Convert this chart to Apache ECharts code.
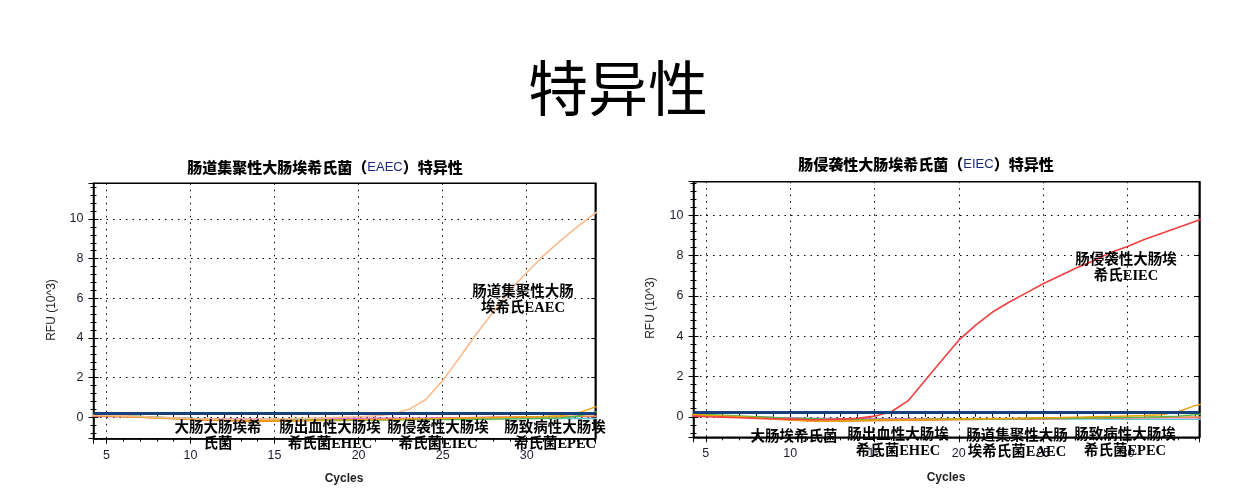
<!DOCTYPE html>
<html>
<head>
<meta charset="utf-8">
<script src="https://cdn.jsdelivr.net/npm/echarts@6/dist/echarts.min.js"></script>
<style>
html,body{margin:0;padding:0;background:#fff}
#main{width:1236px;height:492px}
</style>
</head>
<body>
<div id="main"></div>
<script>
// cycle numbers (x)
var cycles = [4,5,6,7,8,9,10,11,12,13,14,15,16,17,18,19,20,21,22,23,24,25,26,27,28,29,30,31,32,33,34,35];
var threshold = 0.2;

// left panel: EAEC specificity (RFU x10^3)
var leftEAEC   = [0.12,0.10,0.07,0.04,0.00,-0.03,-0.06,-0.08,-0.10,-0.10,-0.10,-0.08,-0.07,-0.05,-0.03,0.00,0.03,0.08,0.15,0.40,0.90,1.85,3.00,4.20,5.30,6.40,7.30,8.15,8.90,9.60,10.25,10.80];
var leftGreen  = [0.15,0.12,0.08,0.04,0.00,-0.04,-0.08,-0.10,-0.12,-0.13,-0.14,-0.15,-0.15,-0.15,-0.15,-0.15,-0.14,-0.14,-0.13,-0.13,-0.12,-0.12,-0.11,-0.10,-0.09,-0.08,-0.07,-0.05,-0.03,0.05,0.25,0.40];
var leftGold   = [0.10,0.08,0.05,0.02,-0.02,-0.06,-0.10,-0.12,-0.14,-0.15,-0.16,-0.16,-0.16,-0.15,-0.14,-0.13,-0.12,-0.11,-0.10,-0.09,-0.08,-0.06,-0.05,-0.03,-0.02,0.00,0.02,0.04,0.08,0.20,0.50,0.70];
var leftOrange = [0.08,0.06,0.03,0.00,-0.04,-0.08,-0.12,-0.15,-0.18,-0.20,-0.20,-0.20,-0.19,-0.18,-0.17,-0.16,-0.15,-0.14,-0.12,-0.10,-0.08,-0.06,-0.04,-0.02,0.00,0.01,0.02,0.03,0.04,0.05,0.06,0.07];
var leftPink   = [0.05,0.04,0.02,0.00,-0.02,-0.04,-0.06,-0.07,-0.08,-0.08,-0.08,-0.08,-0.08,-0.07,-0.07,-0.06,-0.06,-0.05,-0.05,-0.04,-0.03,-0.02,-0.02,-0.01,0.00,0.01,0.02,0.03,0.03,0.04,0.04,0.05];
var leftCyan   = [0.12,0.10,0.07,0.04,0.01,-0.02,-0.05,-0.07,-0.09,-0.10,-0.11,-0.12,-0.12,-0.12,-0.12,-0.11,-0.11,-0.10,-0.10,-0.10,-0.09,-0.09,-0.08,-0.08,-0.08,-0.07,-0.07,-0.07,-0.06,-0.06,-0.06,-0.06];

// right panel: EIEC specificity
var rightEIEC   = [0.05,0.00,-0.02,-0.05,-0.08,-0.10,-0.12,-0.14,-0.15,-0.12,-0.08,0.03,0.25,0.80,1.80,2.80,3.80,4.55,5.20,5.70,6.15,6.60,7.00,7.40,7.75,8.15,8.45,8.80,9.10,9.40,9.70,10.00];
var rightGold   = [0.12,0.08,0.04,0.00,-0.05,-0.10,-0.15,-0.20,-0.22,-0.20,-0.18,-0.16,-0.15,-0.14,-0.13,-0.12,-0.11,-0.10,-0.09,-0.08,-0.06,-0.05,-0.04,-0.02,0.00,0.02,0.04,0.06,0.10,0.25,0.55,0.75];
var rightGreen  = [0.15,0.12,0.08,0.04,0.00,-0.04,-0.07,-0.09,-0.11,-0.12,-0.13,-0.13,-0.13,-0.13,-0.12,-0.12,-0.11,-0.11,-0.10,-0.10,-0.09,-0.08,-0.07,-0.06,-0.05,-0.04,-0.03,-0.02,0.00,0.03,0.10,0.20];
var rightOrange = [0.10,0.07,0.03,-0.02,-0.07,-0.12,-0.17,-0.20,-0.22,-0.22,-0.21,-0.20,-0.19,-0.18,-0.17,-0.16,-0.15,-0.14,-0.13,-0.12,-0.11,-0.10,-0.09,-0.08,-0.07,-0.06,-0.05,-0.04,-0.03,-0.02,-0.01,0.00];
var rightPink   = [0.06,0.04,0.02,0.00,-0.02,-0.04,-0.06,-0.08,-0.09,-0.10,-0.10,-0.10,-0.10,-0.10,-0.10,-0.11,-0.11,-0.12,-0.12,-0.12,-0.11,-0.10,-0.09,-0.08,-0.07,-0.06,-0.06,-0.05,-0.05,-0.05,-0.05,-0.05];
var rightCyan   = [0.10,0.08,0.05,0.02,-0.01,-0.04,-0.06,-0.08,-0.09,-0.10,-0.11,-0.11,-0.12,-0.12,-0.12,-0.12,-0.12,-0.12,-0.12,-0.12,-0.12,-0.12,-0.12,-0.12,-0.12,-0.13,-0.13,-0.13,-0.13,-0.13,-0.13,-0.13];

var mainTitle = '特异性';
var leftTitle = ['肠道集聚性大肠埃希氏菌（', 'EAEC', '）特异性'];
var rightTitle = ['肠侵袭性大肠埃希氏菌（', 'EIEC', '）特异性'];

var chart = echarts.init(document.getElementById('main'));

function pairs(vals) {
  return cycles.map(function (c, i) { return [c, vals[i]]; });
}

var labelColor = '#1d1d2b';
var serifFont = '"Liberation Serif","Noto Sans CJK SC",serif';
var sansFont = '"Liberation Sans",Arial';

function xAxes(gi, min, max) {
  return [{
    type: 'value', gridIndex: gi, min: min, max: max, splitNumber: 6,
    axisLine: {show: true, onZero: false, lineStyle: {color: '#000', width: 1.5}},
    axisTick: {show: true, length: 5, lineStyle: {color: '#000'}},
    minorTick: {show: true, splitNumber: 5, length: 3, lineStyle: {color: '#000'}},
    splitLine: {show: true, lineStyle: {color: '#000', width: 1, type: [1.5, 5]}},
    axisLabel: {showMinLabel: false, showMaxLabel: false, margin: 10, fontSize: 12.5,
      color: labelColor, fontFamily: sansFont}
  }, {
    type: 'value', gridIndex: gi, min: min, max: max, splitNumber: 6, position: 'bottom',
    axisLine: {show: false},
    axisTick: {show: true, inside: true, length: 4, lineStyle: {color: '#000'}},
    minorTick: {show: true, splitNumber: 5, length: 3, lineStyle: {color: '#000'}},
    splitLine: {show: false}, axisLabel: {show: false}
  }];
}

function yAxes(gi, min, max) {
  return [{
    type: 'value', gridIndex: gi, min: min, max: max, splitNumber: 6,
    axisLine: {show: true, onZero: false, lineStyle: {color: '#000', width: 1.5}},
    axisTick: {show: true, length: 5, lineStyle: {color: '#000'}},
    minorTick: {show: true, splitNumber: 5, length: 3, lineStyle: {color: '#000'}},
    splitLine: {show: true, lineStyle: {color: '#000', width: 1, type: [1.5, 5]}},
    axisLabel: {showMinLabel: false, showMaxLabel: false, margin: 10, fontSize: 12.5,
      color: labelColor, fontFamily: sansFont}
  }, {
    type: 'value', gridIndex: gi, min: min, max: max, splitNumber: 6, position: 'left',
    axisLine: {show: false},
    axisTick: {show: true, inside: true, length: 5, lineStyle: {color: '#000'}},
    minorTick: {show: true, splitNumber: 5, length: 3, lineStyle: {color: '#000'}},
    splitLine: {show: false}, axisLabel: {show: false}
  }, {
    type: 'value', gridIndex: gi, min: min, max: max, splitNumber: 6, position: 'right',
    axisLine: {show: true, lineStyle: {color: '#000', width: 1.5}},
    axisTick: {show: true, inside: true, length: 4, lineStyle: {color: '#000'}},
    splitLine: {show: false}, axisLabel: {show: false}
  }];
}

function line(xi, yi, vals, color, width, z) {
  return {
    type: 'line', xAxisIndex: xi, yAxisIndex: yi, data: pairs(vals),
    symbol: 'none', smooth: false, clip: true, z: z || 2,
    lineStyle: {color: color, width: width || 1.4}
  };
}

function thresholdLine(xi, yi) {
  return {
    type: 'line', xAxisIndex: xi, yAxisIndex: yi, data: [], z: 5,
    markLine: {
      silent: true, symbol: 'none', label: {show: false},
      lineStyle: {color: '#173f7c', width: 2.8, type: 'solid'},
      data: [{yAxis: threshold}]
    }
  };
}

function txt(text, x, y, font, extra) {
  var s = {text: text, x: x, y: y, textAlign: 'center', textVerticalAlign: 'middle',
    font: font, fill: '#000', lineHeight: 16};
  if (extra) for (var k in extra) s[k] = extra[k];
  return {type: 'text', z: 100, style: s};
}

function subTitle(parts, x, y) {
  return {type: 'text', z: 100, style: {
    text: '{a|' + parts[0] + '}{b|' + parts[1] + '}{a|' + parts[2] + '}',
    x: x, y: y, textAlign: 'center', textVerticalAlign: 'middle',
    rich: {
      a: {fontFamily: '"Noto Sans CJK SC"', fontWeight: 900, fontSize: 15, fill: '#000'},
      b: {fontFamily: sansFont, fontWeight: 'normal', fontSize: 13, fill: '#1b2a78'}
    }
  }};
}

var annFont = 'bold 14.5px ' + serifFont;
var axFont = '12px ' + sansFont;
var cycFont = 'bold 12px ' + sansFont;

var graphics = [
  {type: 'text', left: 'center', top: 58, z: 100,
    style: {text: mainTitle, font: '60px "Noto Sans CJK SC"', fill: '#000'}},
  subTitle(leftTitle, 325, 167),
  subTitle(rightTitle, 926, 164),
  txt('Cycles', 344, 479, cycFont, {fill: '#222'}),
  txt('Cycles', 946, 478, cycFont, {fill: '#222'}),
  {type: 'text', z: 100, x: 52, y: 310, rotation: Math.PI / 2,
    style: {text: 'RFU (10^3)', textAlign: 'center', textVerticalAlign: 'middle', font: axFont, fill: '#222'}},
  {type: 'text', z: 100, x: 651, y: 308, rotation: Math.PI / 2,
    style: {text: 'RFU (10^3)', textAlign: 'center', textVerticalAlign: 'middle', font: axFont, fill: '#222'}},
  // left annotations
  txt('肠道集聚性大肠\n埃希氏EAEC', 523, 300, annFont),
  txt('大肠大肠埃希\n氏菌', 218, 436, annFont),
  txt('肠出血性大肠埃\n希氏菌EHEC', 330, 436, annFont),
  txt('肠侵袭性大肠埃\n希氏菌EIEC', 438, 436, annFont),
  txt('肠致病性大肠埃\n希氏菌EPEC', 555, 436, annFont),
  // right annotations
  txt('肠侵袭性大肠埃\n希氏EIEC', 1126, 268, annFont),
  txt('大肠埃希氏菌', 794, 437, annFont),
  txt('肠出血性大肠埃\n希氏菌EHEC', 898, 443, annFont),
  txt('肠道集聚性大肠\n埃希氏菌EAEC', 1017, 444, annFont),
  txt('肠致病性大肠埃\n希氏菌EPEC', 1125, 443, annFont)
];

var option = {
  backgroundColor: '#fff',
  animation: false,
  grid: [
    {left: 93.5, top: 183.3, width: 501.8, height: 255.4, show: true, borderColor: '#000', borderWidth: 1.5, backgroundColor: 'transparent'},
    {left: 693.5, top: 181.7, width: 505.8, height: 255.6, show: true, borderColor: '#000', borderWidth: 1.5, backgroundColor: 'transparent'}
  ],
  xAxis: xAxes(0, 4.23, 34.08).concat(xAxes(1, 4.27, 34.26)),
  yAxis: yAxes(0, -1.08, 11.8).concat(yAxes(1, -1.02, 11.67)),
  series: [
    line(0, 0, leftCyan, '#5cc8d0'),
    line(0, 0, leftPink, '#e26ad8'),
    line(0, 0, leftOrange, '#f28a2e'),
    line(0, 0, leftGreen, '#4db848'),
    line(0, 0, leftGold, '#e8a20c'),
    line(0, 0, leftEAEC, '#f8bb8e', 1.6, 3),
    thresholdLine(0, 0),
    line(2, 3, rightCyan, '#5cc8d0'),
    line(2, 3, rightPink, '#e26ad8'),
    line(2, 3, rightOrange, '#f28a2e'),
    line(2, 3, rightGreen, '#4db848'),
    line(2, 3, rightGold, '#e8a20c'),
    line(2, 3, rightEIEC, '#f23f3f', 1.6, 3),
    thresholdLine(2, 3)
  ],
  graphic: graphics
};

chart.setOption(option);
</script>
</body>
</html>
